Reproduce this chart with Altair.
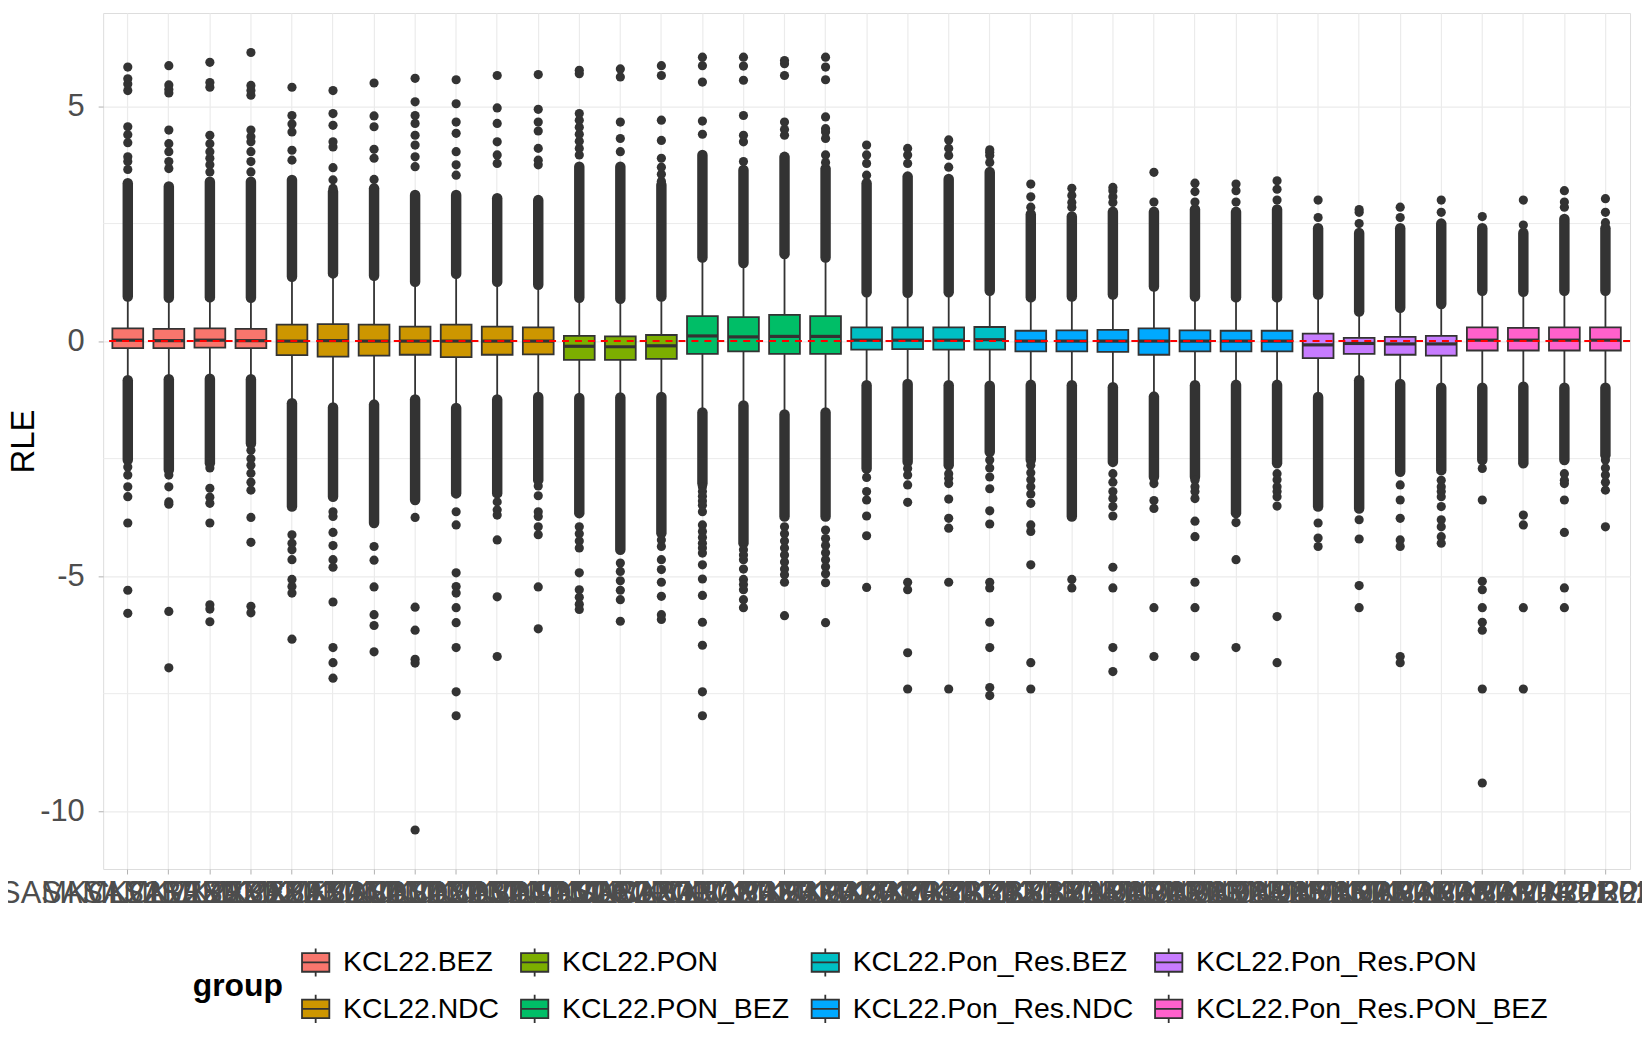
import altair as alt
import pandas as pd

samples = [
    "SAMKCL22BEZ01", "SAMKCL22BEZ02", "SAMKCL22BEZ03", "SAMKCL22BEZ04",
    "SAMKCL22NDC01", "SAMKCL22NDC02", "SAMKCL22NDC03", "SAMKCL22NDC04",
    "SAMKCL22NDC05", "SAMKCL22NDC06", "SAMKCL22NDC07",
    "SAMKCL22PON01", "SAMKCL22PON02", "SAMKCL22PON03",
    "SAMKCL22PBZ01", "SAMKCL22PBZ02", "SAMKCL22PBZ03", "SAMKCL22PBZ04",
    "SAMKCL22RBZ01", "SAMKCL22RBZ02", "SAMKCL22RBZ03", "SAMKCL22RBZ04",
    "SAMKCL22RND01", "SAMKCL22RND02", "SAMKCL22RND03", "SAMKCL22RND04",
    "SAMKCL22RND05", "SAMKCL22RND06", "SAMKCL22RND07",
    "SAMKCL22RPN01", "SAMKCL22RPN02", "SAMKCL22RPN03", "SAMKCL22RPN04",
    "SAMKCL22RPB01", "SAMKCL22RPB02", "SAMKCL22RPB03", "SAMKCL22RPB04",
]
groups = (
    ["KCL22.BEZ"] * 4 + ["KCL22.NDC"] * 7 + ["KCL22.PON"] * 3 + ["KCL22.PON_BEZ"] * 4
    + ["KCL22.Pon_Res.BEZ"] * 4 + ["KCL22.Pon_Res.NDC"] * 7 + ["KCL22.Pon_Res.PON"] * 4
    + ["KCL22.Pon_Res.PON_BEZ"] * 4
)

q1 = [-0.15, -0.15, -0.14, -0.15, -0.30, -0.33, -0.31, -0.29, -0.34, -0.29, -0.28,
      -0.40, -0.40, -0.38, -0.27, -0.22, -0.27, -0.27, -0.18, -0.17, -0.18, -0.18,
      -0.22, -0.22, -0.23, -0.29, -0.22, -0.22, -0.22, -0.36, -0.27, -0.29, -0.31,
      -0.20, -0.20, -0.20, -0.20]
med = [0.02, 0.01, 0.02, 0.01, 0.00, 0.01, 0.00, 0.00, 0.00, 0.00, 0.00,
       -0.11, -0.12, -0.10, 0.11, 0.09, 0.10, 0.10, 0.02, 0.02, 0.02, 0.03,
       0.00, 0.00, 0.00, 0.00, 0.00, 0.00, 0.00, -0.08, -0.05, -0.06, -0.06,
       0.02, 0.02, 0.02, 0.02]
q3 = [0.27, 0.26, 0.27, 0.26, 0.35, 0.36, 0.35, 0.31, 0.35, 0.31, 0.29,
      0.11, 0.10, 0.13, 0.53, 0.51, 0.56, 0.53, 0.29, 0.29, 0.29, 0.30,
      0.22, 0.23, 0.24, 0.27, 0.23, 0.22, 0.22, 0.16, 0.07, 0.09, 0.11,
      0.29, 0.28, 0.29, 0.29]
whisker_lo = [-0.78, -0.76, -0.75, -0.76, -1.27, -1.36, -1.30, -1.19, -1.37, -1.19, -1.14,
              -1.16, -1.15, -1.14, -1.47, -1.32, -1.51, -1.47, -0.89, -0.86, -0.89, -0.90,
              -0.88, -0.89, -0.93, -1.13, -0.89, -0.88, -0.88, -1.14, -0.78, -0.86, -0.94,
              -0.94, -0.92, -0.94, -0.94]
whisker_hi = [0.90, 0.87, 0.88, 0.87, 1.32, 1.39, 1.34, 1.21, 1.38, 1.21, 1.15,
              0.87, 0.85, 0.90, 1.73, 1.61, 1.80, 1.73, 0.99, 0.98, 0.99, 1.02,
              0.88, 0.90, 0.94, 1.11, 0.90, 0.88, 0.88, 0.94, 0.58, 0.66, 0.74,
              1.02, 1.00, 1.02, 1.02]

# ranges where outlier points are so dense that they merge into a solid column
dense_up_from = [0.95, 0.92, 0.93, 0.92, 1.37, 1.44, 1.39, 1.26, 1.43, 1.26, 1.20,
                 0.92, 0.90, 0.95, 1.78, 1.66, 1.85, 1.78, 1.04, 1.03, 1.04, 1.07,
                 0.93, 0.95, 0.99, 1.16, 0.95, 0.93, 0.93, 0.99, 0.63, 0.71, 0.79,
                 1.07, 1.05, 1.07, 1.07]
dense_up_to = [3.36, 3.29, 3.39, 3.39, 3.43, 3.18, 3.25, 3.11, 3.11, 3.04, 3.00,
               3.71, 3.71, 3.32, 3.96, 3.64, 3.92, 3.67, 3.36, 3.50, 3.45, 3.60,
               2.70, 2.65, 2.75, 2.75, 2.80, 2.75, 2.80, 2.40, 2.30, 2.40, 2.50,
               2.40, 2.30, 2.60, 2.40]
dense_dn_from = [-0.83, -0.81, -0.80, -0.81, -1.32, -1.41, -1.35, -1.24, -1.42, -1.24, -1.19,
                 -1.21, -1.20, -1.19, -1.52, -1.37, -1.56, -1.52, -0.94, -0.91, -0.94, -0.95,
                 -0.93, -0.94, -0.98, -1.18, -0.94, -0.93, -0.93, -1.19, -0.83, -0.91, -0.99,
                 -0.99, -0.97, -0.99, -0.99]
dense_dn_to = [-2.53, -2.74, -2.60, -2.18, -3.52, -3.31, -3.87, -3.38, -3.24, -3.24, -2.96,
               -3.66, -4.44, -4.09, -3.03, -4.30, -3.73, -3.73, -2.71, -2.57, -2.64, -2.36,
               -2.53, -3.73, -2.57, -2.89, -2.89, -3.66, -2.60, -3.52, -3.56, -2.78, -2.75,
               -2.53, -2.60, -2.53, -2.43]

# isolated outliers per sample
outliers = [
    [3.65, 3.82, 3.92, 4.22, 4.39, 4.56, 5.33, 5.47, 5.58, 5.83, -2.68, -2.85, -3.10, -3.31, -3.87, -5.30, -5.79],
    [3.67, 3.82, 4.03, 4.20, 4.49, 5.28, 5.35, 5.45, 5.86, -2.85, -3.10, -3.42, -3.47, -5.75, -6.95],
    [3.60, 3.75, 3.89, 4.03, 4.20, 4.38, 5.40, 5.50, 5.93, -2.70, -3.13, -3.32, -3.45, -3.87, -5.61, -5.70, -5.97],
    [3.60, 3.82, 4.03, 4.24, 4.35, 4.49, 5.23, 5.33, 5.44, 6.14, -2.32, -2.50, -2.64, -2.81, -3.00, -3.17, -3.75, -4.28, -5.64, -5.78],
    [3.85, 4.06, 4.45, 4.62, 4.80, 5.40, -4.12, -4.30, -4.44, -4.65, -5.07, -5.22, -5.36, -6.34],
    [3.25, 3.43, 3.69, 4.13, 4.24, 4.59, 4.84, 5.33, -3.63, -3.73, -4.07, -4.35, -4.65, -4.81, -5.55, -6.52, -6.84, -7.17],
    [3.44, 3.89, 4.08, 4.56, 4.79, 5.49, -4.37, -4.66, -5.23, -5.82, -6.05, -6.61],
    [3.71, 3.92, 4.17, 4.38, 4.63, 4.80, 5.09, 5.59, -3.75, -5.66, -6.15, -6.77, -6.85, -10.40],
    [3.53, 3.75, 4.03, 4.42, 4.66, 5.05, 5.56, -3.63, -3.91, -4.93, -5.22, -5.36, -5.67, -5.99, -6.52, -7.46, -7.97],
    [3.78, 3.96, 4.24, 4.63, 4.96, 5.65, -3.42, -3.59, -3.70, -4.23, -5.44, -6.71],
    [3.75, 3.85, 4.10, 4.47, 4.66, 4.93, 5.67, -3.08, -3.29, -3.63, -3.73, -3.95, -4.12, -5.23, -6.12],
    [3.96, 4.10, 4.25, 4.40, 4.55, 4.70, 4.84, 5.69, 5.76, -3.95, -4.10, -4.25, -4.40, -4.93, -5.29, -5.45, -5.60, -5.71],
    [4.03, 4.31, 4.66, 5.62, 5.79, -4.72, -4.90, -5.10, -5.30, -5.50, -5.96],
    [3.40, 3.55, 3.70, 3.89, 4.27, 4.70, 5.65, 5.86, -4.23, -4.37, -4.65, -4.86, -5.13, -5.43, -5.82, -5.92],
    [4.40, 4.68, 5.51, 5.86, 6.04, -3.10, -3.20, -3.30, -3.40, -3.49, -3.63, -3.91, -4.05, -4.18, -4.30, -4.40,
     -4.51, -4.76, -5.06, -5.41, -5.98, -6.47, -7.46, -7.97],
    [3.82, 4.24, 4.38, 4.80, 5.55, 5.85, 6.04, -4.44, -4.55, -4.65, -4.85, -5.07, -5.18, -5.29, -5.50, -5.67],
    [4.38, 4.50, 4.66, 5.65, 5.90, 5.97, -3.95, -4.10, -4.25, -4.40, -4.55, -4.70, -4.85, -4.97, -5.13, -5.84],
    [3.80, 3.96, 4.31, 4.45, 4.52, 4.77, 5.56, 5.83, 6.04, -4.02, -4.20, -4.35, -4.50, -4.65, -4.80, -4.95, -5.14, -5.99],
    [3.53, 3.78, 3.96, 4.17, -2.90, -3.20, -3.38, -3.72, -4.14, -5.24],
    [3.78, 3.96, 4.10, -2.71, -2.85, -3.06, -3.43, -5.13, -5.29, -6.63, -7.40],
    [3.70, 3.95, 4.10, 4.28, -2.82, -2.92, -3.03, -3.36, -3.77, -3.98, -5.13, -7.40],
    [3.80, 3.95, 4.02, 4.07, -2.53, -2.70, -2.89, -3.14, -3.61, -3.89, -5.13, -5.25, -5.98, -6.52, -7.37, -7.54],
    [2.85, 3.07, 3.34, -2.64, -2.80, -2.95, -3.10, -3.25, -3.45, -3.91, -4.05, -4.76, -6.84, -7.40],
    [2.85, 2.95, 3.10, 3.25, -5.07, -5.25],
    [2.95, 3.07, 3.20, 3.27, -2.82, -3.00, -3.20, -3.35, -3.52, -3.72, -4.81, -5.25, -6.52, -7.03],
    [2.96, 3.59, -3.03, -3.39, -3.56, -5.67, -6.71],
    [2.96, 3.18, 3.36, -2.96, -3.10, -3.20, -3.35, -3.83, -4.16, -5.13, -5.67, -6.71],
    [2.96, 3.20, 3.34, -3.86, -4.65, -6.52],
    [3.00, 3.23, 3.41, -2.82, -2.95, -3.10, -3.20, -3.31, -3.51, -5.86, -6.84],
    [2.63, 3.00, -3.87, -4.19, -4.37],
    [2.50, 2.74, 2.80, -3.80, -4.21, -5.20, -5.67],
    [2.63, 2.85, -3.06, -3.38, -3.77, -4.23, -4.37, -6.71, -6.84],
    [2.74, 3.00, -2.96, -3.10, -3.20, -3.31, -3.52, -3.80, -3.95, -4.16, -4.30],
    [2.65, -2.71, -3.38, -5.11, -5.29, -5.67, -5.98, -6.15, -7.40, -9.40],
    [2.47, 3.00, -3.70, -3.91, -5.67, -7.40],
    [2.85, 2.96, 3.20, -2.82, -2.96, -3.03, -3.38, -4.07, -5.25, -5.67],
    [2.52, 2.74, 3.03, -2.53, -2.70, -2.85, -3.00, -3.17, -3.95],
]

group_levels = ["KCL22.BEZ", "KCL22.NDC", "KCL22.PON", "KCL22.PON_BEZ",
                "KCL22.Pon_Res.BEZ", "KCL22.Pon_Res.NDC", "KCL22.Pon_Res.PON",
                "KCL22.Pon_Res.PON_BEZ"]
group_colors = ["#F8766D", "#CD9600", "#7CAE00", "#00BE67",
                "#00BFC4", "#00A9FF", "#C77CFF", "#FF61CC"]
minor_breaks = [-7.5, -2.5, 2.5]
major_breaks = [-10, -5, 0, 5]
ref_line = [0]

# legend is filled column-wise (2 rows x 4 columns) -> reorder for row-major layout
legend_order = [group_levels[i] for i in (0, 2, 4, 6, 1, 3, 5, 7)]
legend_colors = [group_colors[i] for i in (0, 2, 4, 6, 1, 3, 5, 7)]

box_df = pd.DataFrame({"sample": samples, "group": groups, "q1": q1, "med": med,
                       "q3": q3, "wlo": whisker_lo, "whi": whisker_hi})
dense_df = pd.DataFrame({"sample": samples + samples,
                         "y1": dense_up_from + dense_dn_from,
                         "y2": dense_up_to + dense_dn_to})
out_df = pd.DataFrame([(s, v) for s, vals in zip(samples, outliers) for v in vals],
                      columns=["sample", "value"])
minor_df = pd.DataFrame({"v": minor_breaks})
zero_df = pd.DataFrame({"v": ref_line})

FONT = "Liberation Sans"
DARK = "#333333"
GRID = "#EBEBEB"

yscale = alt.Scale(domain=[-11.23, 6.98], nice=False, zero=False)
yaxis = alt.Axis(values=major_breaks, grid=True, gridColor=GRID, gridWidth=1.2,
                 domain=False, ticks=True, tickSize=5, tickColor="#B0B0B0",
                 labelExpr="datum.value + ''",
                 labelFontSize=31, labelColor="#4D4D4D", labelPadding=14,
                 titleFontSize=33, titleColor="black", titleFontWeight="normal",
                 titleX=-80, titleBaseline="middle")
xscale = alt.Scale(paddingInner=0, paddingOuter=0.1)
xaxis = alt.Axis(grid=True, gridColor=GRID, gridWidth=1.2, bandPosition=0.5,
                 domain=False, ticks=True, tickSize=5, tickColor="#B0B0B0",
                 labelAngle=0, labelOverlap=False, labelLimit=1000,
                 labelFontSize=31, labelColor="#4D4D4D", labelPadding=5)


def X():
    return alt.X("sample:N", sort=samples, scale=xscale, axis=xaxis, title=None)


def Y(field):
    return alt.Y(field, scale=yscale, axis=yaxis, title="RLE")


minor_grid = alt.Chart(minor_df).mark_rule(color=GRID, strokeWidth=1).encode(y=Y("v:Q"))

dense = alt.Chart(dense_df).mark_rule(color=DARK, strokeWidth=10.5, strokeCap="round").encode(
    x=X(), y=Y("y1:Q"), y2="y2:Q")

points = alt.Chart(out_df).mark_circle(color=DARK, size=85, opacity=1).encode(
    x=X(), y=Y("value:Q"))

whisk_up = alt.Chart(box_df).mark_rule(color=DARK, strokeWidth=1.8).encode(
    x=X(), y=Y("q3:Q"), y2="whi:Q")
whisk_dn = alt.Chart(box_df).mark_rule(color=DARK, strokeWidth=1.8).encode(
    x=X(), y=Y("wlo:Q"), y2="q1:Q")

symbol_path = ("M-0.97,-0.66H0.97V0.66H-0.97Z M-0.97,0H0.97 "
               "M0,-0.66V-1 M0,0.66V1")

boxes = alt.Chart(box_df).mark_bar(
    width=alt.RelativeBandSize(0.75), stroke=DARK, strokeWidth=1.8, opacity=1
).encode(
    x=X(), y=Y("q1:Q"), y2="q3:Q",
    fill=alt.Fill("group:N", scale=alt.Scale(domain=legend_order, range=legend_colors),
                  legend=alt.Legend(
                      title="group", orient="none", legendX=90, legendY=938,
                      direction="horizontal", columns=4, gridAlign="each",
                      titleOrient="left", titleAnchor="middle", titleBaseline="middle",
                      titleFontSize=32, titleFontWeight="bold", titleColor="black",
                      titlePadding=17, labelFontSize=28.5, labelColor="black",
                      labelOffset=12, labelLimit=800, symbolType=symbol_path,
                      symbolSize=800, symbolStrokeColor=DARK, symbolStrokeWidth=1.8,
                      symbolOpacity=1, rowPadding=10, columnPadding=18)),
)

medians = alt.Chart(box_df).mark_tick(color=DARK, thickness=3.2, size=31, opacity=1).encode(
    x=X(), y=Y("med:Q"))

hline = alt.Chart(zero_df).mark_rule(color="#FF0000", strokeWidth=2, strokeDash=[7, 6]).encode(
    y=Y("v:Q"))

chart = alt.layer(minor_grid, dense, points, whisk_up, whisk_dn, boxes, medians, hline).properties(
    width=1534, height=860,
    padding={"left": 95.6, "top": 2.6, "right": 12, "bottom": 178},
    autosize=alt.AutoSizeParams(type="none"),
    background="white",
).configure_view(stroke=None).configure(font=FONT)

chart.save("out.html", embed_options={"renderer": "svg", "actions": False})
